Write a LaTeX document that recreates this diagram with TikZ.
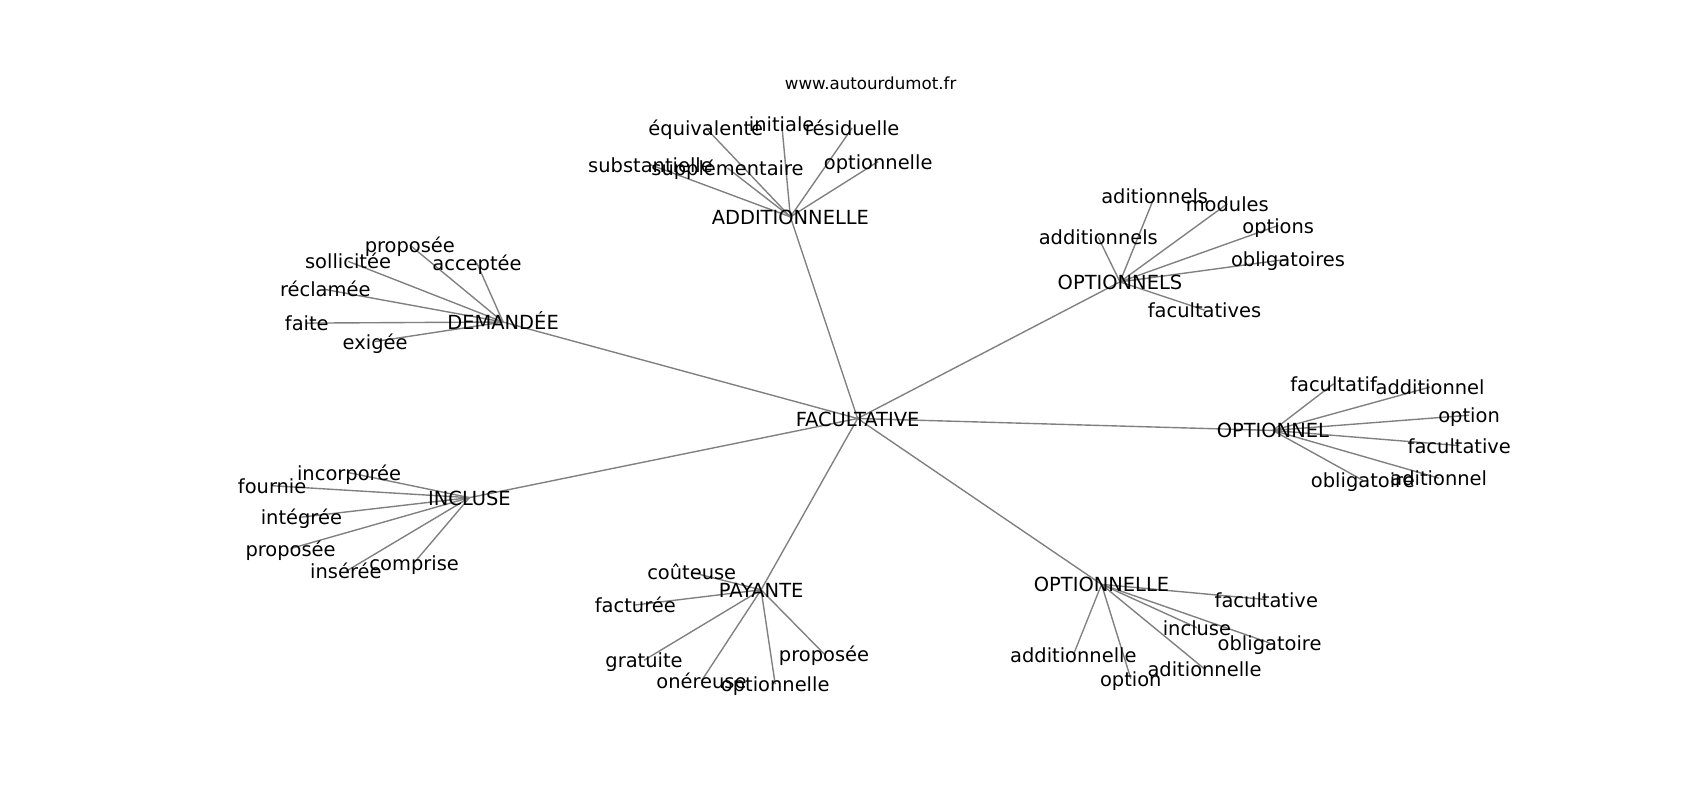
\documentclass[tikz,border=0pt]{standalone}
\usepackage{fontspec}
\setmainfont{DejaVu Sans}
\usetikzlibrary{backgrounds}

\begin{document}
\begin{tikzpicture}[
    x=0.7806pt, y=-0.7806pt,
    word/.style = {font=\fontsize{14}{17}\selectfont, inner sep=0pt, text height=13.7pt, text depth=2.9pt},
    hub/.style = {word},
    site/.style = {font=\fontsize{12}{14}\selectfont, inner sep=0pt, text height=11.7pt, text depth=2.5pt},
    link/.style = {draw=gray, line width=1pt}
    ]
    \useasboundingbox (0,0) rectangle (1568,738);
    \node[site] (site) at (803,77) {www.autourdumot.fr};

    % centre et branches
    \node[hub] (fac) at (791,386) {FACULTATIVE};
    \node[hub] (add) at (729,200) {ADDITIONNELLE};
    \node[hub] (opts) at (1033,260) {OPTIONNELS};
    \node[hub] (opt) at (1174,397) {OPTIONNEL};
    \node[hub] (dem) at (464,297) {DEMANDÉE};
    \node[hub] (inc) at (433,459) {INCLUSE};
    \node[hub] (pay) at (702,544) {PAYANTE};
    \node[hub] (optle) at (1016,539) {OPTIONNELLE};

    % ADDITIONNELLE
    \node[word] (add-equiv) at (651,118) {équivalente};
    \node[word] (add-init) at (721,114) {initiale};
    \node[word] (add-resid) at (786,118) {résiduelle};
    \node[word] (add-subst) at (600,152) {substantielle};
    \node[word] (add-suppl) at (671,155) {supplémentaire};
    \node[word] (add-optle) at (810,149) {optionnelle};

    % OPTIONNELS
    \node[word] (opts-adit) at (1065,181) {aditionnels};
    \node[word] (opts-mod) at (1132,188) {modules};
    \node[word] (opts-add) at (1013,219) {additionnels};
    \node[word] (opts-opt) at (1179,208) {options};
    \node[word] (opts-oblig) at (1188,239) {obligatoires};
    \node[word] (opts-fac) at (1111,286) {facultatives};

    % OPTIONNEL
    \node[word] (opt-facif) at (1230,354) {facultatif};
    \node[word] (opt-add) at (1319,357) {additionnel};
    \node[word] (opt-opt) at (1355,383) {option};
    \node[word] (opt-fac) at (1346,411) {facultative};
    \node[word] (opt-oblig) at (1257,443) {obligatoire};
    \node[word] (opt-adit) at (1327,441) {aditionnel};

    % DEMANDÉE
    \node[word] (dem-prop) at (378,226) {proposée};
    \node[word] (dem-acc) at (440,243) {acceptée};
    \node[word] (dem-soll) at (321,241) {sollicitée};
    \node[word] (dem-recl) at (300,267) {réclamée};
    \node[word] (dem-faite) at (283,298) {faite};
    \node[word] (dem-exig) at (346,315) {exigée};

    % INCLUSE
    \node[word] (inc-incorp) at (322,436) {incorporée};
    \node[word] (inc-fourn) at (251,448) {fournie};
    \node[word] (inc-integ) at (278,477) {intégrée};
    \node[word] (inc-prop) at (268,506) {proposée};
    \node[word] (inc-inser) at (319,527) {insérée};
    \node[word] (inc-compr) at (382,519) {comprise};

    % PAYANTE
    \node[word] (pay-cout) at (638,528) {coûteuse};
    \node[word] (pay-fact) at (586,558) {facturée};
    \node[word] (pay-grat) at (594,609) {gratuite};
    \node[word] (pay-oner) at (647,628) {onéreuse};
    \node[word] (pay-optle) at (715,631) {optionnelle};
    \node[word] (pay-prop) at (760,603) {proposée};

    % OPTIONNELLE
    \node[word] (optle-fac) at (1168,553) {facultative};
    \node[word] (optle-incl) at (1104,579) {incluse};
    \node[word] (optle-oblig) at (1171,593) {obligatoire};
    \node[word] (optle-add) at (990,604) {additionnelle};
    \node[word] (optle-opt) at (1043,626) {option};
    \node[word] (optle-adit) at (1111,617) {aditionnelle};

    \begin{scope}[on background layer]
    \draw[link] (fac.center) -- (add.center);
    \draw[link] (fac.center) -- (opts.center);
    \draw[link] (fac.center) -- (opt.center);
    \draw[link] (fac.center) -- (dem.center);
    \draw[link] (fac.center) -- (inc.center);
    \draw[link] (fac.center) -- (pay.center);
    \draw[link] (fac.center) -- (optle.center);

    \draw[link] (add.center) -- (add-equiv.center);
    \draw[link] (add.center) -- (add-init.center);
    \draw[link] (add.center) -- (add-resid.center);
    \draw[link] (add.center) -- (add-subst.center);
    \draw[link] (add.center) -- (add-suppl.center);
    \draw[link] (add.center) -- (add-optle.center);

    \draw[link] (opts.center) -- (opts-adit.center);
    \draw[link] (opts.center) -- (opts-mod.center);
    \draw[link] (opts.center) -- (opts-add.center);
    \draw[link] (opts.center) -- (opts-opt.center);
    \draw[link] (opts.center) -- (opts-oblig.center);
    \draw[link] (opts.center) -- (opts-fac.center);

    \draw[link] (opt.center) -- (opt-facif.center);
    \draw[link] (opt.center) -- (opt-add.center);
    \draw[link] (opt.center) -- (opt-opt.center);
    \draw[link] (opt.center) -- (opt-fac.center);
    \draw[link] (opt.center) -- (opt-oblig.center);
    \draw[link] (opt.center) -- (opt-adit.center);

    \draw[link] (dem.center) -- (dem-prop.center);
    \draw[link] (dem.center) -- (dem-acc.center);
    \draw[link] (dem.center) -- (dem-soll.center);
    \draw[link] (dem.center) -- (dem-recl.center);
    \draw[link] (dem.center) -- (dem-faite.center);
    \draw[link] (dem.center) -- (dem-exig.center);

    \draw[link] (inc.center) -- (inc-incorp.center);
    \draw[link] (inc.center) -- (inc-fourn.center);
    \draw[link] (inc.center) -- (inc-integ.center);
    \draw[link] (inc.center) -- (inc-prop.center);
    \draw[link] (inc.center) -- (inc-inser.center);
    \draw[link] (inc.center) -- (inc-compr.center);

    \draw[link] (pay.center) -- (pay-cout.center);
    \draw[link] (pay.center) -- (pay-fact.center);
    \draw[link] (pay.center) -- (pay-grat.center);
    \draw[link] (pay.center) -- (pay-oner.center);
    \draw[link] (pay.center) -- (pay-optle.center);
    \draw[link] (pay.center) -- (pay-prop.center);

    \draw[link] (optle.center) -- (optle-fac.center);
    \draw[link] (optle.center) -- (optle-incl.center);
    \draw[link] (optle.center) -- (optle-oblig.center);
    \draw[link] (optle.center) -- (optle-add.center);
    \draw[link] (optle.center) -- (optle-opt.center);
    \draw[link] (optle.center) -- (optle-adit.center);
    \end{scope}
\end{tikzpicture}
\end{document}
